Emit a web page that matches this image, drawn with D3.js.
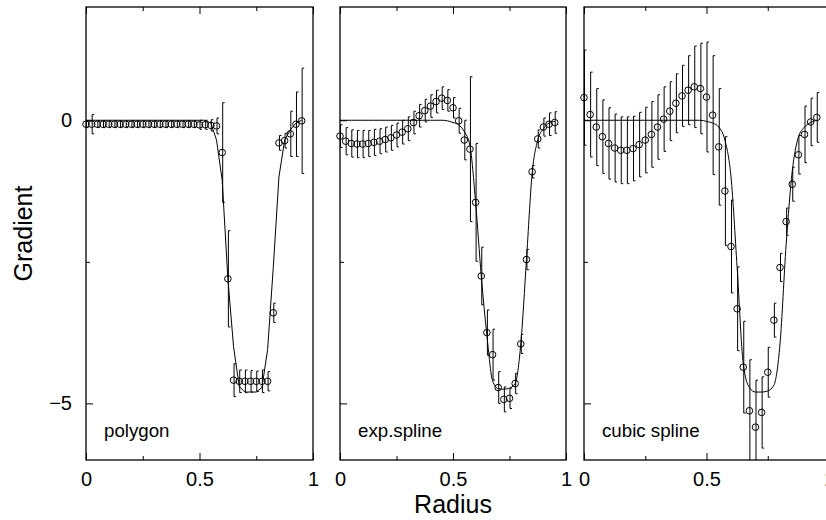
<!DOCTYPE html>
<html>
<head>
<meta charset="utf-8">
<script src="https://cdn.jsdelivr.net/npm/d3@7"></script>
<style>
body { margin: 0; background: #fff; }
svg { display: block; font-family: "Liberation Sans", Arial, sans-serif; }
</style>
</head>
<body>
<div id="chart"></div>
<script>
var radius = [0, 0.025, 0.05, 0.075, 0.1, 0.125, 0.15, 0.175, 0.2, 0.225,
              0.25, 0.275, 0.3, 0.325, 0.35, 0.375, 0.4, 0.425, 0.45, 0.475,
              0.5, 0.525, 0.55, 0.575, 0.6, 0.625, 0.65, 0.675, 0.7, 0.725,
              0.75, 0.775, 0.8, 0.825, 0.85, 0.875, 0.9, 0.925, 0.95];

var panelNames = ["polygon", "exp.spline", "cubic spline"];

// polygon
var polygonValues = [-0.07, -0.07, -0.07, -0.07, -0.07, -0.07, -0.07, -0.07, -0.07, -0.07,
                     -0.07, -0.07, -0.07, -0.07, -0.07, -0.07, -0.07, -0.07, -0.07, -0.07,
                     -0.08, -0.08, -0.09, -0.1, -0.57, -2.80, -4.59, -4.61, -4.61, -4.61,
                     -4.61, -4.61, -4.61, -3.40, -0.40, -0.36, -0.24, -0.07, -0.01];
var polygonErrors = [0.06, 0.17, 0.06, 0.06, 0.06, 0.06, 0.06, 0.06, 0.06, 0.06,
                     0.06, 0.06, 0.06, 0.06, 0.06, 0.06, 0.06, 0.06, 0.06, 0.06,
                     0.08, 0.08, 0.1, 0.14, 0.88, 0.85, 0.29, 0.2, 0.2, 0.19,
                     0.18, 0.2, 0.17, 0.17, 0.13, 0.13, 0.40, 0.57, 0.93];
var polygonFit = [0, 0, 0, 0, 0, 0, 0, 0, 0, 0,
                  0, 0, 0, 0, 0, 0, 0, 0, 0, 0,
                  0, 0, -0.05, -0.35, -1.06, -2.8, -4.0, -4.7, -4.8, -4.8,
                  -4.8, -4.72, -4.05, -2.6, -1.0, -0.35, -0.17, -0.05, 0];

// exp.spline
var expValues = [-0.28, -0.37, -0.41, -0.42, -0.42, -0.41, -0.39, -0.37, -0.34, -0.31,
                 -0.26, -0.21, -0.15, -0.04, 0.08, 0.17, 0.25, 0.33, 0.39, 0.35,
                 0.22, -0.01, -0.35, -0.51, -1.45, -2.75, -3.75, -4.14, -4.72, -4.93,
                 -4.91, -4.65, -3.95, -2.46, -0.91, -0.33, -0.12, -0.07, -0.04];
var expErrors = [0.2, 0.24, 0.24, 0.24, 0.24, 0.23, 0.23, 0.22, 0.22, 0.22,
                 0.21, 0.21, 0.21, 0.2, 0.2, 0.2, 0.2, 0.2, 0.2, 0.19,
                 0.18, 0.22, 0.35, 1.28, 1.04, 0.51, 0.40, 0.45, 0.28, 0.22,
                 0.18, 0.18, 0.17, 0.18, 0.11, 0.16, 0.16, 0.2, 0.19];
var expFit = [0, 0, 0, 0, 0, 0, 0, 0, 0, 0,
              0, 0, 0, 0, 0, 0, 0, 0, 0, -0.01,
              -0.04, -0.08, -0.2, -0.45, -1.45, -2.75, -3.8, -4.6, -4.74, -4.75,
              -4.73, -4.65, -3.95, -2.47, -0.95, -0.35, -0.15, -0.05, -0.02];

// cubic spline
var cubicValues = [0.40, 0.10, -0.12, -0.29, -0.41, -0.49, -0.53, -0.53, -0.50, -0.43,
                   -0.35, -0.25, -0.12, 0.02, 0.16, 0.30, 0.43, 0.53, 0.59, 0.56,
                   0.41, 0.09, -0.47, -1.25, -2.23, -3.33, -4.36, -5.13, -5.42, -5.16,
                   -4.45, -3.53, -2.60, -1.79, -1.13, -0.61, -0.25, -0.03, 0.05];
var cubicErrors = [0.84, 0.75, 0.68, 0.65, 0.63, 0.60, 0.59, 0.59, 0.57, 0.57,
                   0.58, 0.58, 0.57, 0.57, 0.52, 0.52, 0.54, 0.61, 0.72, 0.80,
                   0.97, 1.05, 1.03, 0.96, 0.82, 0.74, 0.81, 0.9, 0.83, 0.63,
                   0.44, 0.30, 0.25, 0.24, 0.3, 0.34, 0.5, 0.42, 0.44];
var cubicFit = [0, 0, 0, 0, 0, 0, 0, 0, 0, 0,
                0, 0, 0, 0, 0, 0, 0, 0, 0, 0,
                -0.02, -0.05, -0.12, -0.35, -1.0, -2.6, -4.3, -4.72, -4.8, -4.8,
                -4.78, -4.68, -3.95, -2.2, -0.9, -0.3, -0.12, -0.04, 0];

var xTicks = [0, 0.5, 1];
var xMinorTicks = [0.25, 0.75];
var yTicks = [0, -5];
var yMinorTicks = [-2.5];

var width = 826, height = 520;
var plotTop = 7, plotBottom = 460;

var panels = [
  {name: panelNames[0], values: polygonValues, errors: polygonErrors, fit: polygonFit, curve: d3.curveLinear, left: 86, right: 313},
  {name: panelNames[1], values: expValues, errors: expErrors, fit: expFit, curve: d3.curveMonotoneX, left: 340, right: 566},
  {name: panelNames[2], values: cubicValues, errors: cubicErrors, fit: cubicFit, curve: d3.curveMonotoneX, left: 584, right: 829}
];

var svg = d3.select("#chart")
  .append("svg")
    .attr("width", width)
    .attr("height", height);

var y = d3.scaleLinear().domain([-6, 2]).range([plotBottom, plotTop]);

panels.forEach(function(p, k) {
  var x = d3.scaleLinear().domain([0, 1]).range([p.left, p.right]);
  var g = svg.append("g");

  svg.append("clipPath").attr("id", "clip" + k)
    .append("rect")
      .attr("x", p.left).attr("y", plotTop)
      .attr("width", p.right - p.left).attr("height", plotBottom - plotTop);

  // fitted profile
  g.append("path")
    .datum(p.fit)
    .attr("fill", "none")
    .attr("stroke", "#000")
    .attr("stroke-width", 1)
    .attr("d", d3.line()
      .x(function(d, i) { return x(radius[i]); })
      .y(function(d) { return y(d); })
      .curve(p.curve));

  // error bars
  var bars = g.append("g")
    .attr("clip-path", "url(#clip" + k + ")")
    .attr("stroke", "#000")
    .attr("stroke-width", 1)
    .attr("fill", "none");
  bars.selectAll("path")
    .data(p.values)
    .enter().append("path")
      .attr("d", function(d, i) {
        var cx = x(radius[i]) + 0.5;
        var y0 = y(d + p.errors[i]), y1 = y(d - p.errors[i]);
        return "M" + (cx + 2) + "," + y0 + "H" + cx + "V" + y1 + "H" + (cx + 2);
      });

  // points
  g.append("g").selectAll("circle")
    .data(p.values)
    .enter().append("circle")
      .attr("cx", function(d, i) { return x(radius[i]); })
      .attr("cy", function(d) { return y(d); })
      .attr("r", 3.3)
      .attr("fill", "none")
      .attr("stroke", "#000")
      .attr("stroke-width", 1);

  // frame
  g.append("rect")
    .attr("x", p.left).attr("y", plotTop)
    .attr("width", p.right - p.left).attr("height", plotBottom - plotTop)
    .attr("fill", "none")
    .attr("stroke", "#000")
    .attr("stroke-width", 1.3);

  // axes, ticks pointing inward
  var xb = g.append("g")
    .attr("transform", "translate(0," + plotBottom + ")")
    .call(d3.axisBottom(x).tickValues(xTicks).tickSize(-7).tickPadding(12).tickFormat(d3.format("")));
  g.append("g")
    .attr("transform", "translate(0," + plotBottom + ")")
    .call(d3.axisBottom(x).tickValues(xMinorTicks).tickSize(-4).tickFormat(""));
  g.append("g")
    .attr("transform", "translate(0," + plotTop + ")")
    .call(d3.axisTop(x).tickValues(xTicks).tickSize(-7).tickFormat(""));
  g.append("g")
    .attr("transform", "translate(0," + plotTop + ")")
    .call(d3.axisTop(x).tickValues(xMinorTicks).tickSize(-4).tickFormat(""));
  var yl = g.append("g")
    .attr("transform", "translate(" + p.left + ",0)")
    .call(d3.axisLeft(y).tickValues(yTicks).tickSize(-7).tickPadding(14)
      .tickFormat(k == 0 ? d3.format("") : ""));
  g.append("g")
    .attr("transform", "translate(" + p.left + ",0)")
    .call(d3.axisLeft(y).tickValues(yMinorTicks).tickSize(-4).tickFormat(""));

  g.selectAll(".domain").remove();
  g.selectAll(".tick line").attr("stroke", "#000").attr("stroke-width", 1);
  g.selectAll(".tick text")
    .attr("fill", "#000")
    .attr("font-family", "'Liberation Sans', Arial, sans-serif")
    .attr("font-size", 20);

  // panel label
  g.append("text")
    .attr("x", p.left + 18)
    .attr("y", 437)
    .attr("font-size", 18.7)
    .attr("fill", "#000")
    .text(p.name);
});

svg.append("text")
  .attr("x", 453)
  .attr("y", 513)
  .attr("text-anchor", "middle")
  .attr("font-size", 25)
  .attr("fill", "#000")
  .text("Radius");

svg.append("text")
  .attr("transform", "translate(32," + ((plotTop + plotBottom) / 2) + ") rotate(-90)")
  .attr("text-anchor", "middle")
  .attr("font-size", 25)
  .attr("fill", "#000")
  .text("Gradient");
</script>
</body>
</html>
